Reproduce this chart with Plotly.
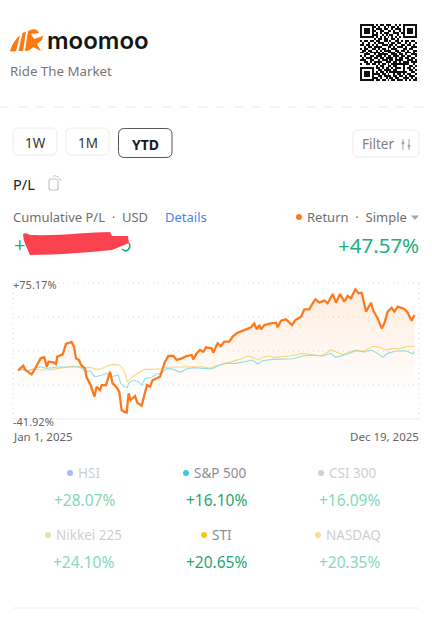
import plotly.graph_objects as go

W, H = 432, 621
FONT = "Noto Sans"

# ---------- data ----------
pl_days = [0,2.4,4.7,6.5,9.2,12.1,14.5,17.2,20.1,23.4,25.5,27.2,31.4,33.7,34.9,39.7,42.6,47.6,49.7,51.5,54.2,55.9,59.5,60.9,64.5,67.8,69.8,72.8,74.3,78.1,81.7,84.0,87.6,89.9,92.0,94.1,96.5,98.2,100.0,103.9,105.9,109.8,112.1,114.5,117.2,119.5,123.1,126.1,130.5,133.5,137.9,140.9,145.3,149.7,154.2,155.6,158.6,161.6,164.5,166.9,171.9,173.4,175.8,177.3,180.2,183.2,187.6,190.6,195.0,199.5,202.4,206.9,209.8,211.9,214.3,215.7,218.7,224.6,229.1,230.5,233.5,237.9,240.3,243.3,246.2,251.3,254.2,258.7,261.6,264.0,267.5,272.0,274.9,279.4,282.3,285.9,289.7,292.7,295.6,299.5,302.4,305.1,309.0,313.4,315.5,319.3,322.9,325.2,328.2,331.7,334.1,337.1,343.0,346.0,349.5,351.9]
pl_vals = [0,2.3,4.0,0.3,-1.2,-3.5,0.3,5.4,10.3,11.2,3.1,7.4,6.9,5.4,11.8,13.8,22.7,24.4,20.4,10.3,8.9,4.6,1.7,-6.0,-12.7,-22.7,-14.1,-17.0,-12.7,-12.7,-1.2,-11.2,-14.7,-18.4,-34.2,-35.6,-36.5,-19.8,-25.6,-22.1,-27.9,-30.4,-21.3,-12.7,-14.1,-8.4,-6.9,-5.5,7.4,12.3,12.3,8.9,10.3,12.3,13.2,9.4,14.6,17.5,16.0,19.8,18.9,15.2,20.4,23.2,20.9,24.7,24.7,29.0,32.4,33.8,35.3,37.0,40.4,35.3,39.0,35.3,39.0,40.4,41.0,37.0,42.7,43.9,41.9,39.0,43.3,46.2,52.5,52.5,57.7,61.1,58.5,60.0,57.7,65.7,58.2,65.7,59.1,64.0,62.0,69.7,66.3,66.8,50.5,58.2,51.3,44.7,36.1,40.4,50.5,53.9,50.5,54.8,52.8,49.6,42.7,47.57]

sti_days = [0,3.3,7.7,13.6,19.5,28.4,35.8,43.2,49.1,58.0,63.9,69.8,74.3,78.7,84.6,89.9,92.3,95.0,97.1,99.4,102.4,108.3,112.7,118.7,127.5,132.0,137.9,146.8,155.6,164.5,170.4,175.8,181.7,190.6,196.5,203.9,208.3,212.8,217.2,223.1,227.6,233.5,242.4,252.7,261.6,269.0,277.9,282.3,288.2,294.2,300.1,307.5,314.9,320.8,326.7,332.6,340.0,344.5,351.9]
sti_vals = [0,1.1,-0.3,1.1,0.3,0.3,1.7,3.1,3.7,2.3,2.6,0.8,1.4,3.7,4.9,4.6,2.6,-2.6,-9.8,-7.8,-4.9,-1.2,0.8,0.8,1.4,2.6,2.6,2.6,2.9,3.1,1.7,4.0,5.1,7.4,9.4,12.3,11.2,8.9,11.2,12.3,10.9,11.7,12.6,14.6,13.2,12.3,17.5,16.0,13.2,16.0,17.5,16.6,20.6,19.8,17.5,18.9,18.6,20.4,20.65]

spx_days = [0,4.7,9.2,13.6,19.5,25.5,31.4,37.3,43.2,49.1,55.0,60.4,63.9,68.4,74.3,78.7,83.1,89.1,91.1,94.1,97.1,98.2,102.4,106.8,109.8,112.7,115.7,118.7,123.1,127.5,132.0,137.9,143.8,149.7,155.6,164.5,171.9,175.8,183.2,193.6,201.0,208.3,212.8,217.2,226.1,233.5,243.9,252.7,261.6,270.5,277.9,281.7,286.8,294.2,300.1,307.5,313.4,319.3,323.8,328.2,335.6,344.5,350.4,351.9]
spx_vals = [0,0.8,-0.6,0.8,3.1,1.7,2.6,3.1,2.6,3.1,2.6,-1.2,-0.6,-5.5,-4.3,-2.6,-5.5,-4.0,-11.2,-14.1,-14.7,-11.2,-8.4,-9.8,-12.7,-6.9,-6.9,-6.0,-3.2,-2.6,1.7,0.8,-1.7,1.1,2.3,1.7,1.1,3.1,6.0,6.0,7.7,8.9,5.4,8.3,9.4,9.4,10.0,12.3,13.2,12.3,14.6,11.2,12.3,14.6,16.9,15.8,17.5,14.6,11.2,14.6,16.6,16.9,14.3,16.10]

y_ticks = [75.17, 45.9, 16.63, -12.65, -41.92]
y_labels = ["+75.17%", "-41.92%"]
x_labels = ["Jan 1, 2025", "Dec 19, 2025"]

bench_names = ["HSI", "S&P 500", "CSI 300", "Nikkei 225", "STI", "NASDAQ"]
bench_returns = ["+28.07%", "+16.10%", "+16.09%", "+24.10%", "+20.65%", "+20.35%"]
bench_active = [False, True, False, False, True, False]
bench_colors = ["#a9b8f5", "#3cc8e8", "#cfcfdc", "#d3e8a8", "#ffc21a", "#fbdc8c"]
bench_dot_x = [70, 186, 321, 48, 204, 318]
bench_val_x = [84, 216, 349, 83, 216, 349]
bench_name_y = [473, 473, 473, 535, 535, 535]
bench_val_y = [500, 500, 500, 562, 562, 562]

qr_rows = [
"11111110101101110010101111111","10000011010010101101001000001","10111010111011001011101011101",
"10111011001100110100101011101","10111010101011100111011011101","10000011100101011001001000001",
"11111110101010101010101111111","00000001011011001101000000000","10110110110011010011010110110",
"01001001011100101101100101001","11011010100111011010011011010","00101101111000110101110100111",
"10110011010110101110001101100","01101100101011110011011010011","11010111110100111101100111010",
"00111001011111001110110100111","10100110111010110111011011001","01011101101101111010110110110",
"11100110010111011011110011101","00110101111001110110101110111","10011011010110101111111110010",
"00000000101100110110001001101","11111110110101101011101011010","10000010011011110110001001101",
"10111010101101011111111100110","10111011110110100101101011001","10111010011011110110110101110",
"10000011101001011011001110101","11111110110110101101110101011"]

# ---------- helpers ----------
def px(x): return x / W
def py(y): return 1 - y / H

ann, shp = [], []
def text(x, y, s, size, color, anchor="left", weight=None, font=FONT):
    f = dict(family=font, size=size, color=color)
    if weight: f["weight"] = weight
    ann.append(dict(x=px(x), y=py(y), xref="paper", yref="paper", text=s, showarrow=False,
                    xanchor=anchor, yanchor="middle", font=f, borderpad=0, borderwidth=0))

def path(d, fill=None, line=None, lw=1, layer="above", dash=None):
    ln = dict(color=line or "rgba(0,0,0,0)", width=lw if line else 0)
    if dash: ln["dash"] = dash
    shp.append(dict(type="path", xref="paper", yref="paper", path=d,
                    fillcolor=fill or "rgba(0,0,0,0)", line=ln, layer=layer))

def pd_(cmds):
    out = []
    for c in cmds:
        out.append(c if isinstance(c, str) else f"{px(c[0]):.5f},{py(c[1]):.5f}")
    return " ".join(out)

def rrect(x0, y0, x1, y1, r, line, lw=1, fill=None):
    path(pd_(["M",(x0+r,y0),"L",(x1-r,y0),"Q",(x1,y0),(x1,y0+r),"L",(x1,y1-r),"Q",(x1,y1),(x1-r,y1),
              "L",(x0+r,y1),"Q",(x0,y1),(x0,y1-r),"L",(x0,y0+r),"Q",(x0,y0),(x0+r,y0),"Z"]),
         fill=fill, line=line, lw=lw)

def dot(x, y, r, color):
    shp.append(dict(type="circle", xref="paper", yref="paper", x0=px(x-r), x1=px(x+r),
                    y0=py(y+r), y1=py(y-r), fillcolor=color, line=dict(width=0)))

def seg(x0, y0, x1, y1, color, lw=1, dash=None, layer="above"):
    ln = dict(color=color, width=lw)
    if dash: ln["dash"] = dash
    shp.append(dict(type="line", xref="paper", yref="paper", x0=px(x0), x1=px(x1), y0=py(y0), y1=py(y1), line=ln, layer=layer))

GRID_DASH = "1px,4px"
GRID_COL = "#d9d9d9"

# ---------- figure ----------
fig = go.Figure()
fig.add_trace(go.Scatter(x=[pl_days[0], pl_days[-1]], y=[y_ticks[-1]]*2, mode="lines",
                         line=dict(width=0), hoverinfo="skip", showlegend=False))
fig.add_trace(go.Scatter(x=pl_days, y=pl_vals, mode="lines", fill="tonexty",
                         fillgradient=dict(type="vertical", start=-24, stop=70,
                                           colorscale=[[0, "rgba(255,122,26,0)"], [1, "rgba(255,122,26,0.14)"]]),
                         line=dict(color="rgba(0,0,0,0)", width=0), hoverinfo="skip", showlegend=False))
fig.add_trace(go.Scatter(x=sti_days, y=sti_vals, mode="lines", line=dict(color="#fbd774", width=1.1), showlegend=False))
fig.add_trace(go.Scatter(x=spx_days, y=spx_vals, mode="lines", line=dict(color="#93dceb", width=1.1), showlegend=False))
fig.add_trace(go.Scatter(x=pl_days, y=pl_vals, mode="lines", line=dict(color="#fb7a1e", width=2.3), showlegend=False))

# QR code
qr_z = [[int(c) for c in r] for r in qr_rows]
fig.add_trace(go.Heatmap(z=qr_z, xaxis="x2", yaxis="y2", showscale=False, hoverinfo="skip",
                         colorscale=[[0, "#ffffff"], [1, "#111111"]], zmin=0, zmax=1))

# Header
text(46.5, 41, "moomoo", 24, "#161616", weight=600, font="Inter")
text(10, 71, "Ride The Market", 13.3, "#777777")
path(pd_(["M",(10,51),"Q",(13,41),(20,35),"L",(16,51),"Q",(13,52),(10,51),"Z"]), fill="#fc7a10")
path(pd_(["M",(18.5,51),"L",(22.5,33),"L",(26,31.5),"L",(23,51),"Z"]), fill="#fc7a10")
path(pd_(["M",(25,51),"L",(28,31),"Q",(33,28),(37,30),"L",(39,33),"L",(31,34),"L",(34,39),"L",(43,36),"L",(42,40),
          "L",(37,44),"L",(41,51),"L",(33,47),"Q",(30,51),(25,51),"Z"]), fill="#fc7a10")
seg(0, 107, 432, 107, "#e9e9e9", 1, "dash")

# Period buttons
rrect(13, 128, 57, 155, 6, "#ececec")
rrect(66, 128, 109, 155, 6, "#ececec")
rrect(118.5, 128.5, 172, 157.5, 6, "#555555", 1)
text(35, 143, "1W", 13.5, "#333333", "center")
text(87.5, 143, "1M", 13.5, "#333333", "center")
text(145, 144, "YTD", 14, "#1a1a1a", "center", weight=700)
rrect(353, 130, 419, 157, 5, "#ececec")
text(362, 144, "Filter", 13.5, "#808080")
seg(403, 139, 403, 150, "#a5a5a5"); dot(403, 143, 1.5, "#a5a5a5")
seg(409, 139, 409, 150, "#a5a5a5"); dot(409, 146, 1.5, "#a5a5a5")

# P/L heading
text(13, 184, "P/L", 14.5, "#222222")
rrect(49, 179, 58, 190, 2, "#c4c4c4", 1.2)
path(pd_(["M",(53,176),"Q",(59,175),(61,181)]), line="#c4c4c4", lw=1)

text(13, 217, "Cumulative P/L\u00a0\u00a0·\u00a0\u00a0USD", 13, "#6f6f6f")
text(165, 217, "Details", 13, "#4a84ee")
dot(299, 217, 3, "#fb7a1e")
text(307, 217, "Return\u00a0\u00a0·\u00a0\u00a0Simple", 13, "#6f6f6f")
path(pd_(["M",(411,215.5),"L",(419,215.5),"L",(415,220),"Z"]), fill="#a8a8a8")

# redacted amount
text(13.5, 245, "+", 20, "#1fae7c")
path(pd_(["M",(122,249),"Q",(125,252),(128,250),"Q",(131,247),(129,243)]), line="#1fae7c", lw=1.6)
path(pd_(["M",(23,234),"Q",(26,232),(30,235),"C",(60,236),(90,232),(110,232),"L",(112,236),"L",(128,236),"L",(129,243),
          "L",(112,250),"C",(90,252),(60,255),(30,255),"L",(26,246),"Q",(23,240),(23,234),"Z"]), fill="#fb4350")
text(419, 245, "+47.57%", 20.5, "#1fae7c", "right")

# plot frame
for yy in (283, 317, 351, 385):
    seg(13, yy, 419, yy, GRID_COL, 1, GRID_DASH, layer="below")
seg(13, 283, 13, 419, GRID_COL, 1, GRID_DASH, layer="below")
seg(419, 283, 419, 419, GRID_COL, 1, GRID_DASH, layer="below")
seg(13, 419, 419, 419, "#eeeeee", 1)

# axis labels
text(13, 284, y_labels[0], 11, "#666666")
text(13, 421, y_labels[1], 11, "#666666")
text(13, 436, x_labels[0], 11.5, "#666666")
text(419, 436, x_labels[1], 11.5, "#666666", "right")

# benchmarks
for i, name in enumerate(bench_names):
    act = bench_active[i]
    dot(bench_dot_x[i], bench_name_y[i], 3, bench_colors[i])
    text(bench_dot_x[i] + 7.5, bench_name_y[i], name, 13.5, "#8e8e93" if act else "#cfcfcf")
    text(bench_val_x[i], bench_val_y[i], bench_returns[i], 15.5, "#1fa574" if act else "#86d8b8", "center")
seg(13, 608, 419, 608, "#eeeeee", 1)

fig.update_layout(
    width=W, height=H, autosize=False, margin=dict(l=0, r=0, t=0, b=0),
    paper_bgcolor="white", plot_bgcolor="rgba(0,0,0,0)", showlegend=False,
    annotations=ann, shapes=shp, hovermode=False,
    xaxis=dict(domain=[px(13), px(419)], range=[-4.44, 356], showticklabels=False,
               showgrid=False, zeroline=False, showline=False, ticks="", fixedrange=True),
    yaxis=dict(domain=[py(419), py(283)], range=[-41.92, 75.17], tickvals=y_ticks, showticklabels=False,
               showgrid=False, zeroline=False, showline=False, ticks="", fixedrange=True),
    xaxis2=dict(domain=[px(360), px(417)], anchor="y2", visible=False, range=[-0.5, 28.5], fixedrange=True),
    yaxis2=dict(domain=[py(81), py(24)], anchor="x2", visible=False, range=[28.5, -0.5], fixedrange=True),
)

fig.write_html("out.html", config=dict(displayModeBar=False),
               post_script="document.body.style.margin='0';document.body.style.overflow='hidden';")
